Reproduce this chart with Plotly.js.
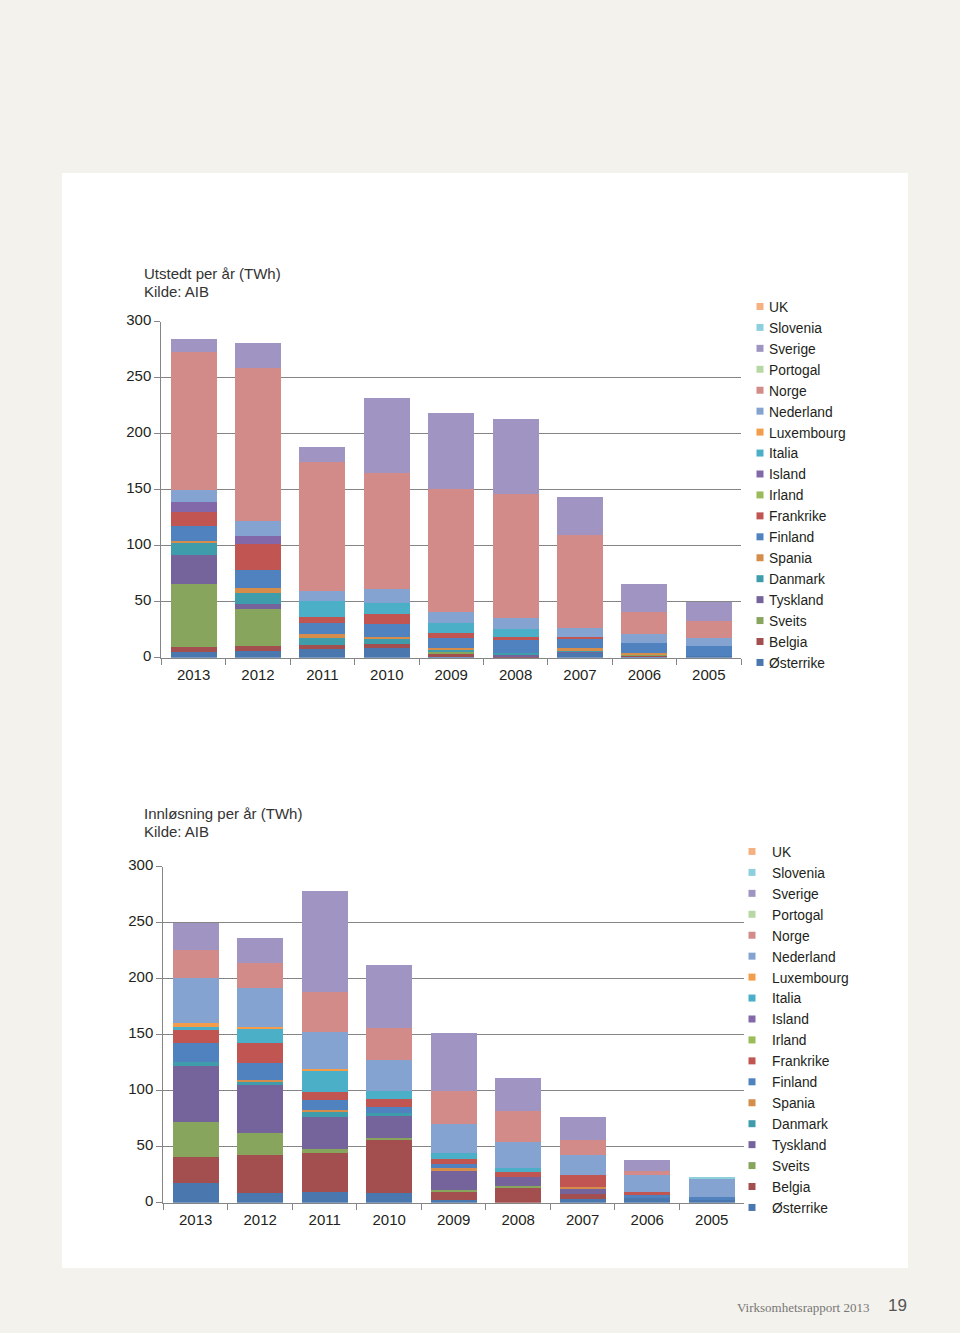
<!DOCTYPE html>
<html>
<head>
<meta charset="utf-8">
<script src="https://cdn.plot.ly/plotly-3.0.1.min.js"></script>
<style>
  html, body { margin: 0; padding: 0; background: #f3f2ec; }
  #chart { width: 960px; height: 1333px; }
</style>
</head>
<body>
<div id="chart"></div>
<script>
// ---- Data ----
const years = ['2013', '2012', '2011', '2010', '2009', '2008', '2007', '2006', '2005'];

// stacking order, bottom to top
const countries = ['Østerrike', 'Belgia', 'Sveits', 'Tyskland', 'Danmark', 'Spania', 'Finland',
  'Frankrike', 'Irland', 'Island', 'Italia', 'Luxembourg', 'Nederland', 'Norge', 'Portogal',
  'Sverige', 'Slovenia', 'UK'];

const countryColors = ['#4a77ae', '#a34f50', '#87a55d', '#75649b', '#3e9cab', '#d68c4b', '#4f82bf',
  '#c15552', '#9bbb59', '#8268a8', '#4bafc8', '#f39c4a', '#84a3d1', '#d38b8a', '#b7d7a3',
  '#a095c2', '#8ecfdd', '#f6b183'];

// Utstedt per år (TWh), per country, years 2013 … 2005
const issued = {
  'Østerrike':  [5.1, 6.0, 7.8, 8.4, 0.5, 0.8, 4.5, 1.2, 1.8],
  'Belgia':     [4.7, 4.4, 3.5, 3.6, 3.4, 0.7, 0, 1.2, 0],
  'Sveits':     [56.0, 33.4, 0, 0, 1.5, 0, 0, 1.1, 0],
  'Tyskland':   [25.9, 4.1, 0, 0, 0, 1.5, 0.9, 0, 0],
  'Danmark':    [11.0, 9.6, 6.6, 5.3, 1.6, 1.5, 0.9, 0, 0],
  'Spania':     [1.5, 4.5, 3.0, 1.5, 1.9, 0, 2.6, 1.0, 0],
  'Finland':    [13.7, 16.3, 9.8, 11.0, 8.4, 11.3, 7.9, 8.4, 8.8],
  'Frankrike':  [12.5, 22.9, 5.9, 8.9, 4.5, 3.0, 2.0, 0, 0],
  'Irland':     [0, 0, 0, 0, 0, 0, 0, 0, 0],
  'Island':     [8.9, 7.5, 0, 0, 0, 0, 0, 0, 0],
  'Italia':     [0, 0, 14.0, 9.9, 8.9, 6.8, 0, 0, 0],
  'Luxembourg': [0, 0, 0, 0, 0, 0, 0, 0, 0],
  'Nederland':  [10.4, 13.6, 9.0, 12.5, 10.4, 9.6, 8.0, 8.3, 7.0],
  'Norge':      [123.5, 136.1, 115.4, 103.5, 109.8, 110.7, 82.8, 19.3, 15.0],
  'Portogal':   [0, 0, 0, 0, 0, 0, 0, 0, 0],
  'Sverige':    [11.6, 22.3, 13.4, 67.0, 67.9, 66.9, 34.2, 25.3, 17.1],
  'Slovenia':   [0, 0, 0, 0, 0, 0, 0, 0, 0],
  'UK':         [0, 0, 0, 0, 0, 0, 0, 0, 0]
};

// Innløsning per år (TWh), per country, years 2013 … 2005
const redeemed = {
  'Østerrike':  [17.9, 8.9, 9.8, 8.4, 2.4, 0, 3.0, 3.9, 2.5],
  'Belgia':     [23.2, 33.7, 34.9, 47.6, 7.1, 13.7, 4.5, 0, 0],
  'Sveits':     [31.2, 19.4, 2.9, 2.0, 1.8, 1.2, 0, 0, 0],
  'Tyskland':   [49.8, 43.1, 28.6, 19.7, 17.9, 8.3, 4.7, 0, 0],
  'Danmark':    [3.8, 2.5, 5.1, 2.1, 0, 0, 0, 0, 0],
  'Spania':     [0, 2.0, 1.4, 0, 1.5, 0, 2.1, 0, 0],
  'Finland':    [17.0, 14.8, 9.0, 5.9, 3.6, 0, 0, 3.0, 2.9],
  'Frankrike':  [11.3, 18.5, 7.4, 6.6, 4.4, 4.5, 10.4, 2.9, 0],
  'Irland':     [0, 0, 0, 0, 0, 0, 0, 0, 0],
  'Island':     [0, 0, 0, 0, 0, 0, 0, 0, 0],
  'Italia':     [2.9, 12.7, 18.8, 7.7, 6.0, 3.6, 0, 0, 0],
  'Luxembourg': [3.1, 1.5, 1.4, 0, 0, 0, 0, 0, 0],
  'Nederland':  [40.1, 34.9, 32.8, 27.1, 25.3, 23.2, 17.9, 14.9, 15.5],
  'Norge':      [25.3, 22.3, 36.0, 28.9, 29.7, 27.7, 13.4, 3.9, 0],
  'Portogal':   [0, 0, 0, 0, 0, 0, 0, 0, 0],
  'Sverige':    [24.4, 21.7, 90.2, 56.0, 52.1, 28.8, 20.2, 9.5, 0],
  'Slovenia':   [0, 0, 0, 0, 0, 0, 0, 0, 2.3],
  'UK':         [0, 0, 0, 0, 0, 0, 0, 0, 0]
};

const yTicks = [0, 50, 100, 150, 200, 250, 300];

// ---- Build traces ----
const W = 960, H = 1333;
const px = v => v / W;
const py = v => 1 - v / H;

const traces = [];
function addChart(data, xa, ya, legendName) {
  countries.forEach((c, i) => {
    traces.push({
      type: 'bar', name: c, x: years, y: data[c],
      xaxis: xa, yaxis: ya,
      marker: { color: countryColors[i], line: { width: 0 } },
      showlegend: false, legendgroup: legendName + c,
      hovertemplate: c + ' %{x}: %{y} TWh<extra></extra>'
    });
  });
  // legend entries (listed top-down: UK … Østerrike)
  for (let i = countries.length - 1; i >= 0; i--) {
    traces.push({
      type: 'scatter', mode: 'markers', name: countries[i],
      x: [null], y: [null], xaxis: xa, yaxis: ya,
      marker: { symbol: 'square', size: 7, color: countryColors[i] },
      legend: legendName, legendgroup: legendName + countries[i], showlegend: true,
      hoverinfo: 'skip'
    });
  }
}
addChart(issued, 'x', 'y', 'legend');
addChart(redeemed, 'x2', 'y2', 'legend2');

const font = 'Liberation Sans, Arial, Helvetica, sans-serif';
const axisGray = '#858585';
const textColor = '#231f20';

function yAxis(domain) {
  return {
    domain: domain, range: [0, 300], tickvals: yTicks, ticktext: yTicks.map(String),
    showgrid: true, gridcolor: axisGray, gridwidth: 1.3,
    showline: true, linecolor: axisGray, linewidth: 1.3,
    ticks: 'outside', ticklen: 6, tickcolor: axisGray, tickwidth: 1.3,
    ticklabelshift: -2,
    zeroline: false, fixedrange: true,
    tickfont: { family: font, size: 15, color: textColor }
  };
}
function xAxis(domain, anchor) {
  return {
    domain: domain, anchor: anchor, type: 'category',
    showgrid: false, showline: true, linecolor: axisGray, linewidth: 1.3,
    ticks: 'outside', tickson: 'boundaries', ticklen: 6, tickcolor: axisGray, tickwidth: 1.3,
    ticklabelstandoff: 3,
    tickfont: { family: font, size: 15, color: textColor }, fixedrange: true
  };
}

const legendCommon = {
  orientation: 'v', traceorder: 'normal', xanchor: 'left', yanchor: 'top',
  bgcolor: 'rgba(0,0,0,0)', borderwidth: 0, tracegroupgap: 0,
  font: { family: font, size: 13.8, color: textColor }, itemclick: false, itemdoubleclick: false
};

const titleFont = { family: font, size: 15, color: '#333333' };
const ann = (text, x, y, f, anchor) => ({
  text: text, xref: 'paper', yref: 'paper', x: px(x), y: py(y),
  xanchor: anchor || 'left', yanchor: 'middle', showarrow: false, font: f
});

const layout = {
  width: W, height: H,
  margin: { l: 0, r: 0, t: 0, b: 0, pad: 0 },
  paper_bgcolor: '#f3f2ec', plot_bgcolor: 'rgba(0,0,0,0)',
  barmode: 'stack', bargap: 0.285,
  showlegend: true,
  xaxis: xAxis([px(161.4), px(741)], 'y'),
  yaxis: yAxis([py(657.7), py(321.7)]),
  xaxis2: xAxis([px(163.4), px(744)], 'y2'),
  yaxis2: Object.assign(yAxis([py(1202.7), py(866.7)]), { anchor: 'x2' }),
  legend: Object.assign({}, legendCommon, { x: px(729), y: py(291) }),
  legend2: Object.assign({}, legendCommon, { x: px(732), y: py(836) }),
  shapes: [{
    type: 'rect', xref: 'paper', yref: 'paper', layer: 'below',
    x0: px(62), x1: px(908), y0: py(1268), y1: py(173),
    fillcolor: '#ffffff', line: { width: 0 }
  }],
  annotations: [
    ann('Utstedt per år (TWh)', 142, 274, titleFont),
    ann('Kilde: AIB', 142, 292, titleFont),
    ann('Innløsning per år (TWh)', 142, 813, titleFont),
    ann('Kilde: AIB', 142, 831, titleFont),
    ann('Virksomhetsrapport 2013', 871, 1307, { family: 'Liberation Serif, Times New Roman, serif', size: 13, color: '#777777' }, 'right'),
    ann('19', 909, 1305, { family: font, size: 17, color: '#555555' }, 'right')
  ]
};

const gd = document.getElementById('chart');
// legend swatches sit closer to their labels in the original layout
function tightenLegend() {
  gd.querySelectorAll('.legend .legendpoints').forEach(g => g.setAttribute('transform', 'translate(11,0)'));
}
Plotly.newPlot(gd, traces, layout, { displayModeBar: false }).then(() => {
  tightenLegend();
  gd.on('plotly_afterplot', tightenLegend);
});
</script>
</body>
</html>
